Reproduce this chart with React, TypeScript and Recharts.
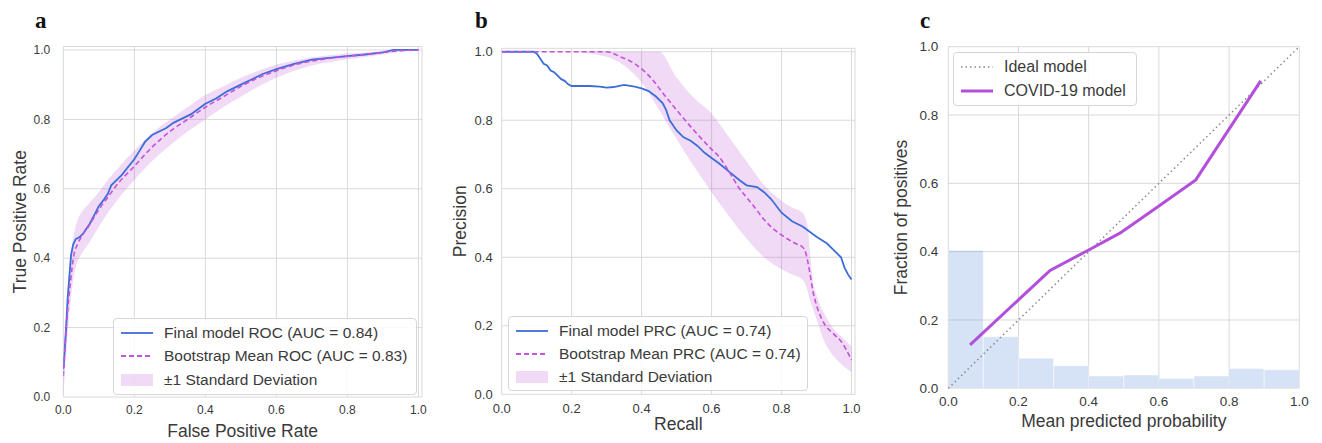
import React from "react";
import {
  ComposedChart,
  Line,
  Area,
  Bar,
  XAxis,
  YAxis,
  CartesianGrid,
  ReferenceArea,
  Legend,
} from "recharts";

const FONT = "'Liberation Sans', Arial, sans-serif";
const TICKS = [0, 0.2, 0.4, 0.6, 0.8, 1.0];

const BLUE = "#3d6dd8";
const MAGENTA = "#c452dc";
const BAND = "#ba55d3";
const GRID = "#d9d9d9";
const TEXT = "#3a3a3a";

// ---- a: ROC ----
const rocFinal: [number, number][] = [
  [0, 0.08], [0.003, 0.12], [0.008, 0.2], [0.012, 0.28], [0.018, 0.36],
  [0.022, 0.41], [0.028, 0.44], [0.035, 0.455], [0.045, 0.46], [0.055, 0.47],
  [0.065, 0.485], [0.075, 0.5], [0.09, 0.53], [0.1, 0.55], [0.115, 0.57],
  [0.125, 0.585], [0.135, 0.61], [0.15, 0.625], [0.165, 0.64], [0.18, 0.66],
  [0.2, 0.685], [0.215, 0.71], [0.23, 0.735], [0.25, 0.755], [0.27, 0.765],
  [0.29, 0.775], [0.31, 0.79], [0.33, 0.8], [0.36, 0.815], [0.38, 0.83],
  [0.4, 0.845], [0.43, 0.86], [0.46, 0.88], [0.5, 0.9], [0.53, 0.915],
  [0.56, 0.93], [0.6, 0.945], [0.65, 0.96], [0.7, 0.972], [0.75, 0.977],
  [0.8, 0.982], [0.85, 0.987], [0.9, 0.993], [0.93, 1.0], [1, 1],
];
const rocMean: [number, number][] = [
  [0, 0.06], [0.01, 0.22], [0.02, 0.33], [0.03, 0.41], [0.04, 0.44],
  [0.05, 0.46], [0.07, 0.49], [0.1, 0.54], [0.125, 0.575], [0.15, 0.61],
  [0.2, 0.665], [0.25, 0.72], [0.3, 0.765], [0.35, 0.8], [0.4, 0.835],
  [0.45, 0.865], [0.5, 0.895], [0.55, 0.92], [0.6, 0.94], [0.65, 0.957],
  [0.7, 0.968], [0.75, 0.976], [0.8, 0.982], [0.85, 0.987], [0.9, 0.993],
  [0.95, 0.998], [1, 1],
];
// x, lower, upper
const rocBand: [number, number, number][] = [
  [0, 0.0, 0.12], [0.01, 0.15, 0.28], [0.02, 0.27, 0.4], [0.03, 0.35, 0.47],
  [0.04, 0.39, 0.51], [0.05, 0.41, 0.53], [0.07, 0.44, 0.555], [0.1, 0.49, 0.59],
  [0.125, 0.53, 0.625], [0.15, 0.565, 0.655], [0.2, 0.625, 0.71], [0.25, 0.68, 0.76],
  [0.3, 0.725, 0.8], [0.35, 0.765, 0.835], [0.4, 0.8, 0.87], [0.45, 0.835, 0.895],
  [0.5, 0.865, 0.92], [0.55, 0.895, 0.94], [0.6, 0.92, 0.958], [0.65, 0.94, 0.97],
  [0.7, 0.955, 0.979], [0.75, 0.965, 0.985], [0.8, 0.973, 0.99], [0.85, 0.98, 0.993],
  [0.9, 0.987, 0.997], [0.95, 0.995, 1.0], [1, 1, 1],
];
const rocLegend = [
  "Final model ROC (AUC = 0.84)",
  "Bootstrap Mean ROC (AUC = 0.83)",
  "±1 Standard Deviation",
];

// ---- b: PRC ----
const prcFinal: [number, number][] = [
  [0, 1], [0.05, 1], [0.09, 1], [0.1, 0.995], [0.11, 0.98], [0.12, 0.965],
  [0.13, 0.96], [0.14, 0.945], [0.15, 0.94], [0.16, 0.93], [0.17, 0.92],
  [0.18, 0.915], [0.19, 0.905], [0.2, 0.9], [0.25, 0.9], [0.28, 0.898],
  [0.3, 0.895], [0.32, 0.897], [0.35, 0.903], [0.38, 0.898], [0.4, 0.893],
  [0.42, 0.885], [0.44, 0.87], [0.46, 0.85], [0.47, 0.83], [0.48, 0.8],
  [0.5, 0.77], [0.52, 0.75], [0.54, 0.74], [0.56, 0.725], [0.58, 0.705],
  [0.6, 0.69], [0.62, 0.675], [0.65, 0.65], [0.68, 0.625], [0.7, 0.61],
  [0.73, 0.605], [0.75, 0.59], [0.77, 0.57], [0.8, 0.53], [0.83, 0.505],
  [0.86, 0.49], [0.9, 0.46], [0.93, 0.44], [0.95, 0.42], [0.97, 0.4],
  [0.98, 0.37], [0.99, 0.35], [1, 0.335],
];
const prcMean: [number, number][] = [
  [0, 1], [0.3, 1], [0.34, 0.985], [0.38, 0.965], [0.4, 0.95], [0.43, 0.92],
  [0.46, 0.88], [0.5, 0.83], [0.55, 0.77], [0.6, 0.715], [0.62, 0.695],
  [0.65, 0.65], [0.68, 0.6], [0.7, 0.575], [0.72, 0.55], [0.75, 0.51],
  [0.78, 0.48], [0.8, 0.465], [0.84, 0.44], [0.86, 0.43], [0.87, 0.41],
  [0.88, 0.36], [0.89, 0.3], [0.9, 0.26], [0.92, 0.21], [0.95, 0.175],
  [0.97, 0.155], [1, 0.1],
];
const prcBand: [number, number, number][] = [
  [0, 1, 1], [0.2, 1, 1], [0.25, 0.995, 1], [0.3, 0.985, 1], [0.35, 0.96, 1],
  [0.4, 0.91, 1], [0.45, 0.83, 1], [0.5, 0.745, 0.925], [0.55, 0.665, 0.865],
  [0.6, 0.59, 0.82], [0.65, 0.52, 0.75], [0.7, 0.455, 0.68], [0.75, 0.4, 0.61],
  [0.8, 0.365, 0.565], [0.83, 0.35, 0.545], [0.86, 0.335, 0.53], [0.875, 0.3, 0.49],
  [0.88, 0.28, 0.43], [0.89, 0.25, 0.33], [0.9, 0.22, 0.29], [0.92, 0.16, 0.24],
  [0.95, 0.11, 0.19], [0.98, 0.08, 0.16], [1, 0.065, 0.14],
];
const prcLegend = [
  "Final model PRC (AUC = 0.74)",
  "Bootstrap Mean PRC (AUC = 0.74)",
  "±1 Standard Deviation",
];

// ---- c: calibration ----
const idealLine: [number, number][] = [[0, 0], [1, 1]];
const covidModel: [number, number][] = [
  [0.062, 0.127], [0.29, 0.345], [0.4, 0.405], [0.49, 0.455],
  [0.595, 0.53], [0.705, 0.61], [0.89, 0.9],
];
const binLabels = ["0.0", "0.1", "0.2", "0.3", "0.4", "0.5", "0.6", "0.7", "0.8", "0.9"];
const binCounts = [0.404, 0.151, 0.088, 0.066, 0.036, 0.039, 0.029, 0.036, 0.058, 0.054];

const toXY = (pts: [number, number][]) => pts.map(([x, y]) => ({ x, y }));
const toBand = (pts: [number, number, number][]) =>
  pts.map(([x, lo, hi]) => ({ x, lo, hi }));
const fmt = (v: number) => v.toFixed(1);

type Swatch = "solid" | "dashed" | "band" | "dotted" | "thick";

function LegendBox({
  rows,
  swatches,
  fontSize,
  width,
  rowH,
}: {
  rows: string[];
  swatches: Swatch[];
  fontSize: number;
  width: number;
  rowH: number;
}) {
  return (
    <div
      style={{
        width,
        boxSizing: "border-box",
        border: "1px solid #d6d6d6",
        borderRadius: 4,
        background: "rgba(255,255,255,0.85)",
        padding: "2px 0 2px 6px",
        fontFamily: FONT,
        fontSize,
        color: TEXT,
      }}
    >
      {rows.map((r, i) => (
        <div key={r} style={{ display: "flex", alignItems: "center", height: rowH }}>
          <svg width={34} height={14} style={{ flex: "none" }}>
            {swatches[i] === "band" ? (
              <rect x={1} y={1} width={32} height={12} fill={BAND} fillOpacity={0.22} />
            ) : swatches[i] === "dotted" ? (
              <line x1={1} y1={7} x2={33} y2={7} stroke="#888" strokeWidth={1.5} strokeDasharray="1.5 3" />
            ) : swatches[i] === "thick" ? (
              <line x1={1} y1={7} x2={33} y2={7} stroke="#b24fdb" strokeWidth={3} />
            ) : (
              <line
                x1={1}
                y1={7}
                x2={33}
                y2={7}
                stroke={swatches[i] === "solid" ? BLUE : MAGENTA}
                strokeWidth={1.8}
                strokeDasharray={swatches[i] === "dashed" ? "5 3" : undefined}
              />
            )}
          </svg>
          <span style={{ marginLeft: 10, whiteSpace: "nowrap" }}>{r}</span>
        </div>
      ))}
    </div>
  );
}

function CurvePanel(props: {
  left: number;
  top: number;
  right: number;
  yAxisW: number;
  xAxisH: number;
  tickFont: number;
  yTickMargin: number;
  xTickMargin: number;
  xTitle: string;
  yTitle: string;
  xTitleOffset: number;
  yTitleOffset: number;
  band: [number, number, number][];
  mean: [number, number][];
  final: [number, number][];
  legend: string[];
  legendPos: { left: number; top: number; width: number; rowH: number };
}) {
  const tick = { fontSize: props.tickFont, fill: TEXT, fontFamily: FONT };
  return (
    <div style={{ position: "absolute", left: props.left, top: 0 }}>
      <ComposedChart
        width={440}
        height={443}
        margin={{ top: props.top, right: props.right, bottom: 0, left: 0 }}
      >
        <CartesianGrid stroke={GRID} strokeWidth={1} />
        <XAxis
          type="number"
          dataKey="x"
          domain={[0, 1.01]}
          ticks={TICKS}
          tickFormatter={fmt}
          height={props.xAxisH}
          tickSize={0}
          tickMargin={props.xTickMargin}
          axisLine={false}
          tick={tick}
          allowDataOverflow
          label={{
            value: props.xTitle,
            position: "insideBottom",
            offset: props.xTitleOffset,
            fontSize: 17.5,
            fill: TEXT,
            fontFamily: FONT,
          }}
        />
        <YAxis
          type="number"
          domain={[0, 1.01]}
          ticks={TICKS}
          tickFormatter={fmt}
          width={props.yAxisW}
          tickSize={0}
          tickMargin={props.yTickMargin}
          axisLine={false}
          tick={tick}
          allowDataOverflow
          label={{
            value: props.yTitle,
            position: "insideLeft",
            angle: -90,
            offset: props.yTitleOffset,
            fontSize: 17.5,
            fill: TEXT,
            fontFamily: FONT,
            style: { textAnchor: "middle" },
          }}
        />
        <ReferenceArea fill="none" stroke="#d2d2d2" strokeWidth={1} ifOverflow="visible" />
        <Area
          data={toBand(props.band)}
          dataKey={(d: { lo: number; hi: number }) => [d.lo, d.hi]}
          type="monotone"
          stroke="none"
          fill={BAND}
          fillOpacity={0.22}
          isAnimationActive={false}
        />
        <Line
          data={toXY(props.final)}
          dataKey="y"
          type="linear"
          stroke={BLUE}
          strokeWidth={1.8}
          dot={false}
          isAnimationActive={false}
        />
        <Line
          data={toXY(props.mean)}
          dataKey="y"
          type="monotone"
          stroke={MAGENTA}
          strokeWidth={1.6}
          strokeDasharray="5 3"
          dot={false}
          isAnimationActive={false}
        />
        <Legend
          layout="vertical"
          align="center"
          verticalAlign="middle"
          wrapperStyle={{
            left: props.legendPos.left,
            top: props.legendPos.top,
            width: props.legendPos.width,
          }}
          content={() => (
            <LegendBox
              rows={props.legend}
              swatches={["solid", "dashed", "band"]}
              fontSize={15.5}
              width={props.legendPos.width}
              rowH={props.legendPos.rowH}
            />
          )}
        />
      </ComposedChart>
    </div>
  );
}

function CalibrationPanel() {
  const tick = { fontSize: 13.5, fill: TEXT, fontFamily: FONT };
  const bins = binLabels.map((bin, i) => ({ bin, count: binCounts[i] }));
  return (
    <div style={{ position: "absolute", left: 880, top: 0 }}>
      <ComposedChart
        width={442}
        height={443}
        data={bins}
        barCategoryGap={0}
        barGap={0}
        margin={{ top: 46.7, right: 22.7, bottom: 0, left: 0 }}
      >
        <CartesianGrid stroke={GRID} strokeWidth={1} xAxisId="num" />
        <XAxis
          xAxisId="num"
          type="number"
          dataKey="x"
          domain={[0, 1]}
          ticks={TICKS}
          tickFormatter={fmt}
          height={54.7}
          tickSize={0}
          tickMargin={8}
          axisLine={false}
          tick={tick}
          label={{
            value: "Mean predicted probability",
            position: "insideBottom",
            offset: 16,
            fontSize: 17.5,
            fill: TEXT,
            fontFamily: FONT,
          }}
        />
        <XAxis xAxisId="bins" dataKey="bin" type="category" height={0} hide />
        <YAxis
          type="number"
          domain={[0, 1]}
          ticks={TICKS}
          tickFormatter={fmt}
          width={68.3}
          tickSize={0}
          tickMargin={10}
          axisLine={false}
          tick={tick}
          label={{
            value: "Fraction of positives",
            position: "insideLeft",
            angle: -90,
            offset: 20.5,
            fontSize: 17.5,
            fill: TEXT,
            fontFamily: FONT,
            style: { textAnchor: "middle" },
          }}
        />
        <Bar
          xAxisId="bins"
          dataKey="count"
          fill="#5b8bd6"
          fillOpacity={0.25}
          stroke="#ffffff"
          strokeOpacity={0.5}
          strokeWidth={1}
          isAnimationActive={false}
        />
        <ReferenceArea xAxisId="num" fill="none" stroke="#d2d2d2" strokeWidth={1} />
        <Line
          xAxisId="num"
          data={toXY(idealLine)}
          dataKey="y"
          type="linear"
          stroke="#8a8a8a"
          strokeWidth={1.5}
          strokeDasharray="1.5 3"
          dot={false}
          isAnimationActive={false}
        />
        <Line
          xAxisId="num"
          data={toXY(covidModel)}
          dataKey="y"
          type="linear"
          stroke="#b24fdb"
          strokeWidth={3}
          dot={false}
          isAnimationActive={false}
        />
        <Legend
          layout="vertical"
          align="center"
          verticalAlign="middle"
          wrapperStyle={{ left: 73, top: 52, width: 184 }}
          content={() => (
            <LegendBox
              rows={["Ideal model", "COVID-19 model"]}
              swatches={["dotted", "thick"]}
              fontSize={16}
              width={184}
              rowH={24}
            />
          )}
        />
      </ComposedChart>
    </div>
  );
}

export default function App() {
  return (
    <div
      style={{
        position: "absolute",
        left: 0,
        top: 0,
        width: 1322,
        height: 443,
        background: "#fff",
        overflow: "hidden",
      }}
    >
      <CurvePanel
        left={0}
        top={46.5}
        right={18}
        yAxisW={63.3}
        xAxisH={46}
        tickFont={12}
        yTickMargin={13}
        xTickMargin={8}
        xTitle="False Positive Rate"
        yTitle="True Positive Rate"
        xTitleOffset={6}
        yTitleOffset={19.5}
        band={rocBand}
        mean={rocMean}
        final={rocFinal}
        legend={rocLegend}
        legendPos={{ left: 113, top: 318, width: 304, rowH: 23.5 }}
      />
      <CurvePanel
        left={440}
        top={48.3}
        right={25}
        yAxisW={61.7}
        xAxisH={48.7}
        tickFont={13}
        yTickMargin={9}
        xTickMargin={9}
        xTitle="Recall"
        yTitle="Precision"
        xTitleOffset={13}
        yTitleOffset={19.3}
        band={prcBand}
        mean={prcMean}
        final={prcFinal}
        legend={prcLegend}
        legendPos={{ left: 68, top: 316, width: 300, rowH: 23 }}
      />
      <CalibrationPanel />
      <svg
        width={1322}
        height={443}
        style={{ position: "absolute", left: 0, top: 0, pointerEvents: "none" }}
      >
        {[
          ["a", 35],
          ["b", 475],
          ["c", 920],
        ].map(([t, x]) => (
          <text
            key={t as string}
            x={x as number}
            y={28}
            fontFamily="'Liberation Serif', 'Times New Roman', serif"
            fontWeight="bold"
            fontSize={23}
            fill="#111"
          >
            {t}
          </text>
        ))}
      </svg>
    </div>
  );
}
